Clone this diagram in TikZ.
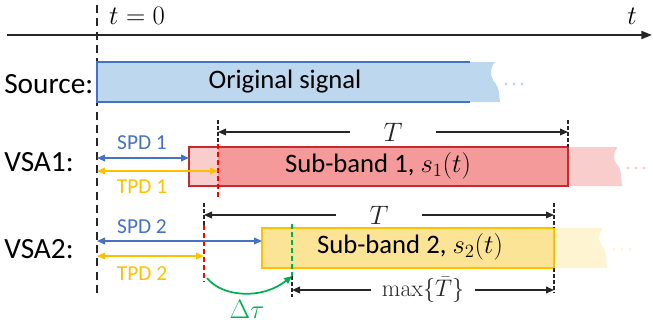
\documentclass[tikz,border=0pt]{standalone}
\usepackage{fix-cm}
\usepackage[no-math]{fontspec}
\setmainfont{Carlito}
\usetikzlibrary{arrows.meta}

\begin{document}
\begin{tikzpicture}[x=0.75pt, y=-0.75pt, >={Triangle[length=6pt,width=5pt]},
    rowlabel/.style={anchor=west, inner sep=0pt, font=\fontsize{22}{26}\selectfont},
    boxtext/.style={font=\fontsize{20}{24}\selectfont},
    delaylabel/.style={font=\fontsize{16}{19}\selectfont},
    mathlabel/.style={font=\fontsize{20}{24}\selectfont},
    gaplabel/.style={mathlabel, fill=white, inner ysep=1pt},
    dimline/.style={<->, line width=1.1pt, black!85},
    tickline/.style={black!85, line width=0.8pt, dash pattern=on 3pt off 1.5pt},
    delayarrow/.style={<->, line width=1.1pt}]

        % Colours of the rows
        \definecolor{srcfill}{RGB}{189,215,238}
        \definecolor{srcedge}{RGB}{68,114,196}
        \definecolor{spdblue}{RGB}{68,114,196}
        \definecolor{tpdyellow}{RGB}{255,192,0}
        \definecolor{sbred}{RGB}{244,154,154}
        \definecolor{sbredpale}{RGB}{250,205,205}
        \definecolor{sbrededge}{RGB}{200,40,50}
        \definecolor{sbyellow}{RGB}{252,228,150}
        \definecolor{sbyellowpale}{RGB}{255,244,210}
        \definecolor{dtgreen}{RGB}{0,176,80}

        \useasboundingbox (0,0) rectangle (653,326);

        % Time axis and the t = 0 reference
        \coordinate (axL) at (7,35);
        \coordinate (axR) at (652,35);
        \draw[-{Triangle[length=8pt,width=6pt]}, line width=1.5pt, black!85] (axL) -- (axR);
        \node[mathlabel] (tlab) at (632,16) {$t$};
        \node[mathlabel] (tzero) at (137,16) {$t=0$};
        \coordinate (zTop) at (97,5);
        \coordinate (zBot) at (97,295);
        \draw[line width=1.4pt, black!85, dash pattern=on 6pt off 4pt] (zTop) -- (zBot);

        % Source row
        \fill[srcfill] (97,62) -- (495,62) .. controls (489,68) and (490,78) .. (496,84)
            .. controls (500,90) and (499,97) .. (500,102) -- (97,102) -- cycle;
        \draw[srcedge, line width=0.9pt] (470,62) -- (97,62) -- (97,102) -- (470,102);
        \node[rowlabel] (src) at (4,84) {Source:};
        \node[boxtext] (orig) at (285,82) {Original signal};
        \foreach \k in {0,1,2}
            \fill[srcfill] (506+8*\k,84) circle (1.3pt);

        % VSA1 row
        \fill[sbredpale] (189,147) rectangle (218,186);
        \fill[sbred] (218,147) rectangle (568,186);
        \fill[sbredpale] (568,147) -- (618,147) .. controls (612,153) and (613,161) .. (619,167)
            .. controls (622,173) and (621,180) .. (622,186) -- (568,186) -- cycle;
        \draw[sbrededge, line width=1.1pt] (189,147) rectangle (568,186);
        \node[rowlabel] (vsa1) at (4,162) {VSA1:};
        \node[boxtext] (sub1) at (378,166) {Sub-band 1, $s_1(t)$};
        \foreach \k in {0,1,2}
            \fill[sbredpale] (628+8*\k,168) circle (1.3pt);

        \coordinate (r1Top) at (218,120);
        \coordinate (r1Mid) at (218,144);
        \coordinate (r1Bot) at (218,198);
        \coordinate (e1Top) at (568,120);
        \coordinate (e1Bot) at (568,147);
        \draw[tickline] (r1Top) -- (r1Mid);
        \draw[tickline] (e1Top) -- (e1Bot);
        \draw[red, line width=1.1pt, dash pattern=on 4pt off 2pt] (r1Mid) -- (r1Bot);
        \draw[dimline] (218,132) -- node[gaplabel, inner xsep=25pt] (T1) {$T$} (568,132);

        \draw[delayarrow, spdblue] (97,158) -- (189,158);
        \node[delaylabel, spdblue] (spd1) at (142,143) {SPD 1};
        \draw[delayarrow, tpdyellow] (97,171) -- (218,171);
        \node[delaylabel, tpdyellow] (tpd1) at (142,187) {TPD 1};

        % VSA2 row
        \fill[sbyellow] (262,228) rectangle (554,268);
        \fill[sbyellowpale] (554,228) -- (603,228) .. controls (597,234) and (598,242) .. (604,248)
            .. controls (607,254) and (606,262) .. (607,268) -- (554,268) -- cycle;
        \draw[tpdyellow, line width=1.1pt] (262,228) rectangle (554,268);
        \node[rowlabel] (vsa2) at (4,249) {VSA2:};
        \node[boxtext] (sub2) at (410,247) {Sub-band 2, $s_2(t)$};
        \foreach \k in {0,1,2}
            \fill[sbyellowpale] (614+8*\k,249) circle (1.3pt);

        \coordinate (r2Top) at (204,203);
        \coordinate (r2Mid) at (204,225);
        \coordinate (r2Bot) at (204,282);
        \coordinate (e2Top) at (554,203);
        \coordinate (e2Mid) at (554,228);
        \coordinate (e2Low) at (554,268);
        \coordinate (e2Bot) at (554,293);
        \coordinate (g2Top) at (292,224);
        \coordinate (g2Mid) at (292,276);
        \coordinate (g2Bot) at (292,297);
        \draw[tickline] (r2Top) -- (r2Mid);
        \draw[tickline] (e2Top) -- (e2Mid);
        \draw[tickline] (e2Low) -- (e2Bot);
        \draw[tickline] (g2Mid) -- (g2Bot);
        \draw[red, line width=1.1pt, dash pattern=on 4pt off 2pt] (r2Mid) -- (r2Bot);
        \draw[dtgreen, line width=1.3pt, dash pattern=on 4pt off 2pt] (g2Top) -- (g2Mid);
        \draw[dimline] (204,215) -- node[gaplabel, inner xsep=25pt] (T2) {$T$} (554,215);
        \draw[dimline] (292,290) -- node[gaplabel, inner xsep=8pt, font=\fontsize{18}{21}\selectfont] (Tmax) {$\max\{\bar{T}\}$} (554,290);

        \draw[delayarrow, spdblue] (97,241) -- (262,241);
        \node[delaylabel, spdblue] (spd2) at (142,227) {SPD 2};
        \draw[delayarrow, tpdyellow] (97,256) -- (204,256);
        \node[delaylabel, tpdyellow] (tpd2) at (142,274) {TPD 2};

        % Extra delay between the two sub-bands
        \draw[->, dtgreen, line width=1.3pt] (207,278) .. controls (222,297) and (262,300) .. (g2Mid);
        \node[mathlabel, dtgreen] (dtau) at (247,309) {$\Delta\tau$};

    \end{tikzpicture}
\end{document}
